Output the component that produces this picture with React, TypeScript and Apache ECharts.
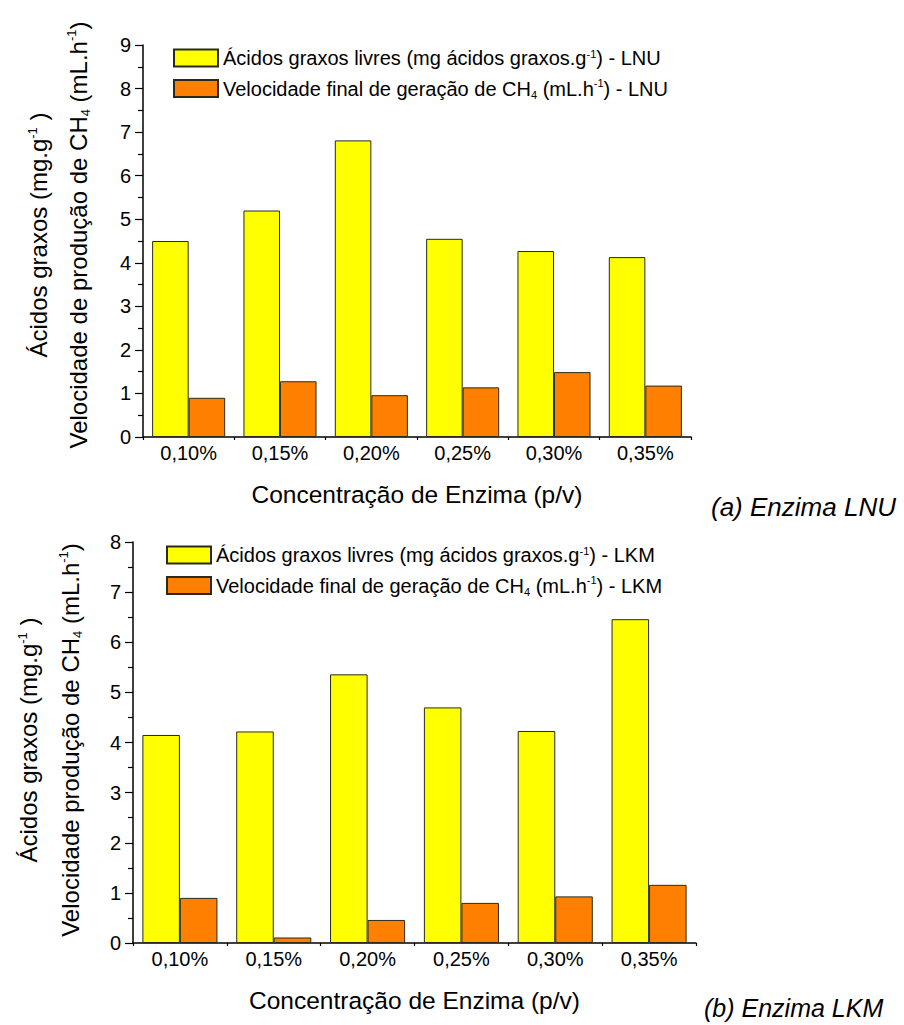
import React, { useEffect, useRef } from "react";
import * as echarts from "echarts";

const categories = ["0,10%", "0,15%", "0,20%", "0,25%", "0,30%", "0,35%"];
const lnuAcidos = [4.5, 5.2, 6.81, 4.55, 4.27, 4.13];
const lnuVelocidade = [0.9, 1.28, 0.96, 1.14, 1.49, 1.18];
const lkmAcidos = [4.15, 4.22, 5.36, 4.7, 4.23, 6.46];
const lkmVelocidade = [0.9, 0.11, 0.46, 0.8, 0.93, 1.16];

const nameAcLNU = "Ácidos graxos livres (mg ácidos graxos.g-1) - LNU";
const nameVelLNU = "Velocidade final de geração de CH4 (mL.h-1) - LNU";
const nameAcLKM = "Ácidos graxos livres (mg ácidos graxos.g-1) - LKM";
const nameVelLKM = "Velocidade final de geração de CH4 (mL.h-1) - LKM";

const richLegend: Record<string, string> = {
  [nameAcLNU]: "Ácidos graxos livres (mg ácidos graxos.g{sup|-1}) - LNU",
  [nameVelLNU]: "Velocidade final de geração de CH{sub|4} (mL.h{sup|-1}) - LNU",
  [nameAcLKM]: "Ácidos graxos livres (mg ácidos graxos.g{sup|-1}) - LKM",
  [nameVelLKM]: "Velocidade final de geração de CH{sub|4} (mL.h{sup|-1}) - LKM",
};

const FONT = "'Liberation Sans', Arial, sans-serif";
const YELLOW = "#FFFF00";
const ORANGE = "#FF8000";
const BORDER = "#2a2a1a";

export default function App() {
  const ref = useRef<HTMLDivElement>(null);
  useEffect(() => {
    if (!ref.current) return;
    const chart = echarts.init(ref.current, undefined, { renderer: "svg" });

    const supRich = {
      sup: { fontSize: 11, fontFamily: FONT, color: "#000", verticalAlign: "top", padding: [0, 0, 9, 0] },
      sub: { fontSize: 11, fontFamily: FONT, color: "#000", verticalAlign: "bottom", padding: [12, 0, 0, 0] },
    };

    const yAxisCommon = (max: number) => ({
      type: "value",
      min: 0,
      max,
      interval: 1,
      axisLine: { show: true, lineStyle: { color: "#000", width: 1.5 } },
      axisTick: { show: true, inside: false, length: 8, lineStyle: { color: "#000", width: 1.2 } },
      minorTick: { show: true, splitNumber: 2, length: 5, lineStyle: { color: "#000", width: 1.2 } },
      splitLine: { show: false },
      axisLabel: { fontSize: 20, fontFamily: FONT, color: "#000", margin: 12 },
    });

    const xAxisCommon = (gridIndex: number) => ({
      type: "category",
      gridIndex,
      data: categories,
      axisLine: { show: true, lineStyle: { color: "#000", width: 1.5 } },
      axisTick: { show: true, inside: false, length: 3, lineStyle: { color: "#000", width: 1.2 } },
      axisLabel: { fontSize: 20, fontFamily: FONT, color: "#000", margin: 6 },
      name: "Concentração de Enzima (p/v)",
      nameLocation: "middle",
      nameGap: 45,
      nameTextStyle: { fontSize: 24.5, fontFamily: FONT, color: "#000" },
    });

    const barStyle = (color: string) => ({ color, borderColor: BORDER, borderWidth: 1 });

    const yNameRich = {
      sup: { fontSize: 13, fontFamily: FONT, fill: "#000", verticalAlign: "top", padding: [0, 0, 11, 0] },
      sub: { fontSize: 13, fontFamily: FONT, fill: "#000", verticalAlign: "bottom", padding: [14, 0, 0, 0] },
    };

    const yName = (x: number, y: number, text: string) => ({
      type: "text",
      x,
      y,
      rotation: Math.PI / 2,
      style: {
        text,
        fontSize: 24,
        fontFamily: FONT,
        fill: "#000",
        align: "center",
        verticalAlign: "middle",
        rich: yNameRich,
      },
    });

    const legendCommon = {
      orient: "vertical",
      padding: 0,
      itemWidth: 44,
      itemHeight: 17,
      itemGap: 9,
      icon: "rect",
      selectedMode: false,
      textStyle: { fontSize: 20, fontFamily: FONT, color: "#000", rich: supRich },
      formatter: (name: string) => richLegend[name] || name,
    };

    chart.setOption({
      animation: false,
      backgroundColor: "#fff",
      grid: [
        { left: 143, top: 45, width: 548, height: 392 },
        { left: 133, top: 542, width: 563, height: 401 },
      ],
      xAxis: [xAxisCommon(0), xAxisCommon(1)],
      yAxis: [
        { ...yAxisCommon(9), gridIndex: 0 },
        { ...yAxisCommon(8), gridIndex: 1 },
      ],
      legend: [
        { ...legendCommon, left: 173, top: 48, data: [nameAcLNU, nameVelLNU] },
        { ...legendCommon, left: 166, top: 545, data: [nameAcLKM, nameVelLKM] },
      ],
      series: [
        { type: "bar", name: nameAcLNU, xAxisIndex: 0, yAxisIndex: 0, data: lnuAcidos, itemStyle: barStyle(YELLOW), barGap: "0%", barCategoryGap: "20%" },
        { type: "bar", name: nameVelLNU, xAxisIndex: 0, yAxisIndex: 0, data: lnuVelocidade, itemStyle: barStyle(ORANGE), barGap: "0%", barCategoryGap: "20%" },
        { type: "bar", name: nameAcLKM, xAxisIndex: 1, yAxisIndex: 1, data: lkmAcidos, itemStyle: barStyle(YELLOW), barGap: "0%", barCategoryGap: "20%" },
        { type: "bar", name: nameVelLKM, xAxisIndex: 1, yAxisIndex: 1, data: lkmVelocidade, itemStyle: barStyle(ORANGE), barGap: "0%", barCategoryGap: "20%" },
      ],
      graphic: [
        yName(38, 235, "Ácidos graxos (mg.g{sup|-1} )"),
        yName(78, 235, "Velocidade de produção de CH{sub|4} (mL.h{sup|-1})"),
        yName(28, 740, "Ácidos graxos (mg.g{sup|-1} )"),
        yName(70, 740, "Velocidade produção de CH{sub|4} (mL.h{sup|-1})"),
        {
          type: "text",
          x: 711,
          y: 507,
          style: { text: "(a) Enzima LNU", fontSize: 26, fontFamily: FONT, fontStyle: "italic", fill: "#000", align: "left", verticalAlign: "middle" },
        },
        {
          type: "text",
          x: 704,
          y: 1008,
          style: { text: "(b) Enzima LKM", fontSize: 25, fontFamily: FONT, fontStyle: "italic", fill: "#000", align: "left", verticalAlign: "middle" },
        },
      ],
    });
    return () => chart.dispose();
  }, []);
  return (
    <div
      ref={ref}
      style={{ position: "absolute", left: 0, top: 0, width: 904, height: 1025 }}
    />
  );
}
